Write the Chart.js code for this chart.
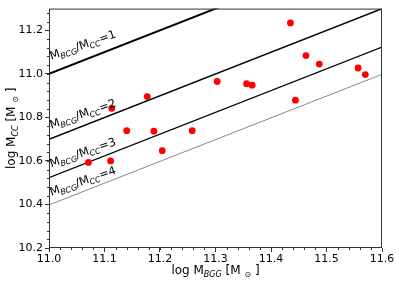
<!DOCTYPE html>
<html>
<head>
<meta charset="utf-8">
<script src="https://cdn.jsdelivr.net/npm/chart.js@4"></script>
<style>
  html, body { margin: 0; padding: 0; background: #fff; }
  #wrap { width: 399px; height: 284px; }
</style>
</head>
<body>
<div id="wrap"><canvas id="chart" width="399" height="284"></canvas></div>
<script>
// 데이터
var bggMass = [11.071, 11.111, 11.113, 11.140, 11.177, 11.189, 11.204, 11.258, 11.303,
               11.356, 11.366, 11.435, 11.444, 11.463, 11.487, 11.557, 11.570];
var ccMass  = [10.593, 10.600, 10.842, 10.739, 10.896, 10.737, 10.647, 10.739, 10.965,
               10.955, 10.948, 11.234, 10.879, 11.084, 11.045, 11.027, 10.997];

// 비율 선 (M_BCG/M_CC = 1,2,3,4) 양 끝점
var ratios = [1, 2, 3, 4];
var lineStartX = [11.0, 11.0, 11.0, 11.0];
var lineStartY = [11.0, 10.699, 10.523, 10.398];
var lineEndX = [11.6, 11.6, 11.6, 11.6];
var lineEndY = [11.6, 11.299, 11.123, 10.998];
// 라벨 위치 (데이터 좌표)
var labelX = [11.004, 11.004, 11.004, 11.004];
var labelY = [11.065, 10.748, 10.571, 10.440];

var xTicks = [11.0, 11.1, 11.2, 11.3, 11.4, 11.5, 11.6];
var yTicks = [10.2, 10.4, 10.6, 10.8, 11.0, 11.2];

var lineWidths = [2, 1.5, 1.1, 0.7];
var lineColors = ['#000', '#000', '#000', '#555'];

var FONT = "'DejaVu Sans', sans-serif";

var datasets = [{
  type: 'scatter',
  data: bggMass.map(function(x, i) { return {x: x, y: ccMass[i]}; }),
  backgroundColor: '#ff0000',
  borderWidth: 0,
  pointRadius: 3.4,
  order: 0
}];
ratios.forEach(function(r, i) {
  datasets.push({
    type: 'line',
    data: [{x: lineStartX[i], y: lineStartY[i]}, {x: lineEndX[i], y: lineEndY[i]}],
    borderColor: lineColors[i],
    borderWidth: lineWidths[i],
    pointRadius: 0,
    fill: false,
    order: 1
  });
});

// 첨자 포함 텍스트 그리기
function drawRich(ctx, parts, size) {
  var x = 0;
  parts.forEach(function(p) {
    if (p.sub) {
      ctx.font = 'italic ' + Math.round(size * 0.7) + 'px ' + FONT;
      ctx.fillText(p.t, x, size * 0.22);
    } else {
      ctx.font = size + 'px ' + FONT;
      ctx.fillText(p.t, x, 0);
    }
    x += ctx.measureText(p.t).width;
  });
  return x;
}
function richWidth(ctx, parts, size) {
  var w = 0;
  parts.forEach(function(p) {
    ctx.font = (p.sub ? 'italic ' + Math.round(size * 0.7) : size) + 'px ' + FONT;
    w += ctx.measureText(p.t).width;
  });
  return w;
}

var decorPlugin = {
  id: 'decor',
  afterDraw: function(chart) {
    var ctx = chart.ctx;
    var a = chart.chartArea;
    var xs = chart.scales.x, ys = chart.scales.y;
    ctx.save();
    // 테두리
    ctx.strokeStyle = '#333';
    ctx.lineWidth = 1;
    ctx.strokeRect(a.left + 0.5, a.top + 0.5, a.right - a.left - 1, a.bottom - a.top - 1);
    // 보조 눈금
    ctx.strokeStyle = '#333';
    ctx.beginPath();
    for (var v = 11.0; v <= 11.6001; v += 0.02) {
      var px = Math.round(xs.getPixelForValue(v)) + 0.5;
      ctx.moveTo(px, a.bottom); ctx.lineTo(px, a.bottom + 2);
    }
    for (var w = 10.2; w <= 11.3001; w += 0.04) {
      var py = Math.round(ys.getPixelForValue(w)) + 0.5;
      ctx.moveTo(a.left, py); ctx.lineTo(a.left - 2, py);
    }
    ctx.stroke();

    // 비율 라벨
    ctx.fillStyle = '#000';
    ctx.textBaseline = 'alphabetic';
    ratios.forEach(function(r, i) {
      ctx.save();
      ctx.translate(xs.getPixelForValue(labelX[i]), ys.getPixelForValue(labelY[i]));
      ctx.rotate(-19 * Math.PI / 180);
      drawRich(ctx, [{t: 'M'}, {t: 'BCG', sub: true}, {t: '/M'}, {t: 'CC', sub: true}, {t: '=' + r}], 11.5);
      ctx.restore();
    });

    // 축 제목
    var xt = [{t: 'log M'}, {t: 'BGG', sub: true}, {t: ' [M '}, {t: '\u2299', sub: true}, {t: ' ]'}];
    var wx = richWidth(ctx, xt, 12);
    ctx.save();
    ctx.translate((a.left + a.right) / 2 - wx / 2, 274);
    drawRich(ctx, xt, 12);
    ctx.restore();

    var yt = [{t: 'log M'}, {t: 'CC', sub: true}, {t: ' [M '}, {t: '\u2299', sub: true}, {t: ' ]'}];
    var wy = richWidth(ctx, yt, 12);
    ctx.save();
    ctx.translate(15, (a.top + a.bottom) / 2 + wy / 2);
    ctx.rotate(-Math.PI / 2);
    drawRich(ctx, yt, 12);
    ctx.restore();
    ctx.restore();
  }
};

var ctx = document.getElementById('chart').getContext('2d');
var chart = new Chart(ctx, {
  type: 'scatter',
  data: { datasets: datasets },
  options: {
    responsive: false,
    animation: false,
    layout: { padding: { top: 5, right: 17, left: 0, bottom: 0 } },
    plugins: { legend: { display: false }, tooltip: { enabled: false } },
    scales: {
      x: {
        type: 'linear', min: 11.0, max: 11.6,
        afterBuildTicks: function(s) { s.ticks = xTicks.map(function(v) { return {value: v}; }); },
        afterFit: function(s) { s.height = 36; },
        grid: { drawOnChartArea: false, tickLength: 4, color: '#333' },
        border: { display: false },
        ticks: { color: '#000', font: { family: FONT, size: 11 }, padding: 1, maxRotation: 0,
                 callback: function(v) { return v.toFixed(1); } }
      },
      y: {
        type: 'linear', min: 10.2, max: 11.3,
        afterBuildTicks: function(s) { s.ticks = yTicks.map(function(v) { return {value: v}; }); },
        afterFit: function(s) { s.width = 49; },
        grid: { drawOnChartArea: false, tickLength: 4, color: '#333' },
        border: { display: false },
        ticks: { color: '#000', font: { family: FONT, size: 11 }, padding: 2,
                 callback: function(v) { return v.toFixed(1); } }
      }
    }
  },
  plugins: [decorPlugin]
});
</script>
</body>
</html>
